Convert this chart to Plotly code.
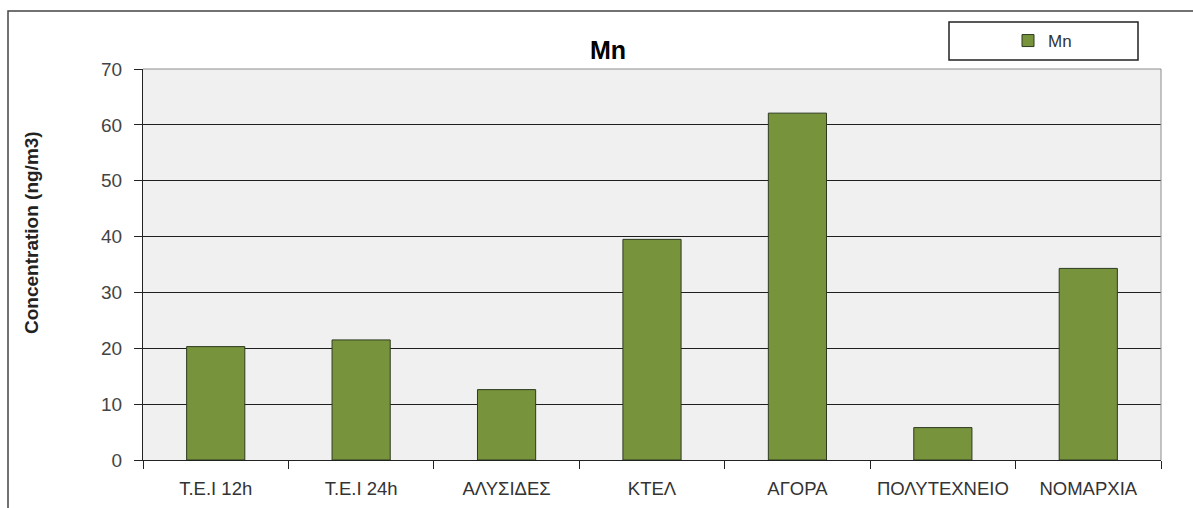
import plotly.graph_objects as go

categories = ["T.E.I 12h", "T.E.I 24h", "ΑΛΥΣΙΔΕΣ", "ΚΤΕΛ", "ΑΓΟΡΑ", "ΠΟΛΥΤΕΧΝΕΙΟ", "ΝΟΜΑΡΧΙΑ"]
mn_values = [20.3, 21.5, 12.6, 39.5, 62.1, 5.8, 34.3]
y_ticks = [0, 10, 20, 30, 40, 50, 60, 70]

W, H = 1193, 508
L, R, T, B = 143, 1161, 69, 460
pw, ph = R - L, B - T

def px(x):
    return (x - L) / pw

def py(y):
    return (B - y) / ph

fig = go.Figure()
fig.add_trace(go.Bar(
    x=categories, y=mn_values, name="Mn",
    marker=dict(color="#77933C", line=dict(color="#2E3B20", width=1)),
    width=0.4,
))

font = "Liberation Sans, Arial, sans-serif"
fig.update_layout(
    width=W, height=H,
    margin=dict(l=L, r=W - R, t=T, b=H - B, autoexpand=False),
    paper_bgcolor="white", plot_bgcolor="#F0F0F0",
    font=dict(family=font, size=14, color="#333333"),
    showlegend=True,
    legend=dict(x=px(1008), y=py(41), xanchor="left", yanchor="middle",
                bgcolor="rgba(0,0,0,0)", font=dict(size=17, color="#333333"),
                itemwidth=30),
    xaxis=dict(showline=True, linecolor="#222222", linewidth=1, automargin=False,
               ticks="outside", tickson="boundaries", ticklen=8, tickcolor="#222222",
               ticklabelstandoff=12, showgrid=False,
               tickfont=dict(size=18.5, color="#333333")),
    yaxis=dict(range=[0, 70], tickvals=y_ticks, showline=True, linecolor="#222222",
               linewidth=1, ticks="outside", ticklen=8, tickcolor="#222222",
               ticklabelstandoff=8, automargin=False,
               showgrid=True, gridcolor="#1E1E1E", gridwidth=1, zeroline=False,
               tickfont=dict(size=19, color="#444444")),
    shapes=[
        dict(type="line", xref="paper", yref="paper", x0=0, x1=1, y0=1, y1=1,
             line=dict(color="#8C8C8C", width=1), layer="above"),
        dict(type="line", xref="paper", yref="paper", x0=1, x1=1, y0=0, y1=1,
             line=dict(color="#8C8C8C", width=1), layer="above"),
        dict(type="rect", xref="paper", yref="paper", x0=px(949), x1=px(1138),
             y0=py(60), y1=py(22), line=dict(color="#222222", width=1.5)),
        dict(type="rect", xref="paper", yref="paper", x0=px(8), x1=px(1210),
             y0=py(530), y1=py(11), line=dict(color="#444444", width=1.5)),
    ],
    annotations=[
        dict(text="<b>Mn</b>", xref="paper", yref="paper", x=px(608), y=py(50),
             xanchor="center", yanchor="middle", showarrow=False,
             font=dict(size=25, color="#000000")),
        dict(text="<b>Concentration (ng/m3)</b>", xref="paper", yref="paper",
             x=px(31), y=py(233), xanchor="center", yanchor="middle", textangle=-90,
             showarrow=False, font=dict(size=19, color="#222222")),
    ],
)

fig.write_html("out.html")
